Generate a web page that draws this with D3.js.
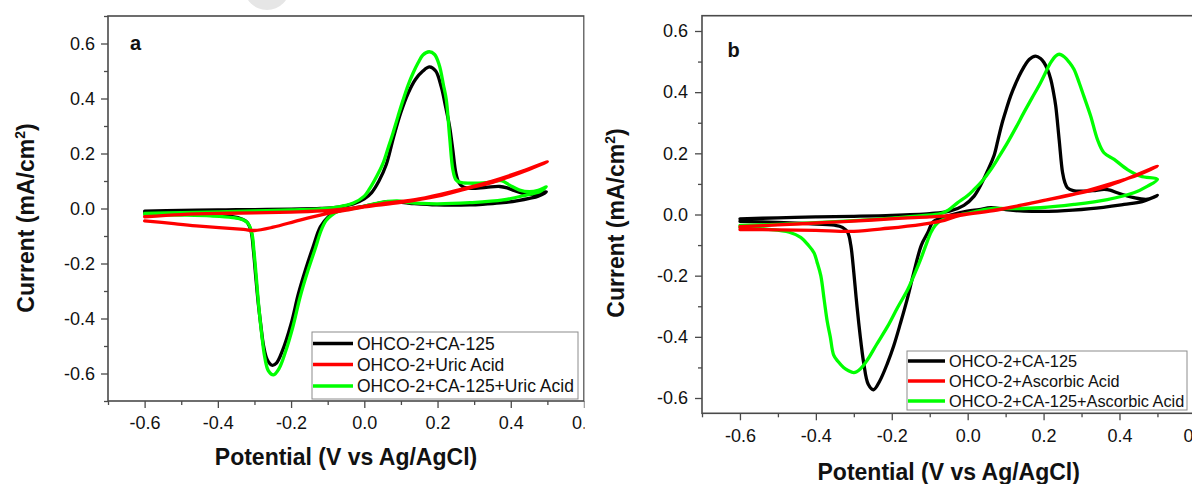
<!DOCTYPE html>
<html>
<head>
<meta charset="utf-8">
<script src="https://cdn.jsdelivr.net/npm/d3@7"></script>
<style>
  html, body { margin: 0; padding: 0; background: #fff; }
  svg { display: block; }
  text { font-family: Arial, "Liberation Sans", Helvetica, sans-serif; fill: #111; }
</style>
</head>
<body>
<script>
// Cyclic voltammograms: [potential (V vs Ag/AgCl), current density (mA/cm²)],
// listed in scan order (anodic sweep from -0.6 V, then the cathodic return).

// Panel a
const ca125A = [
  [-0.6, -0.010], [-0.5, -0.007], [-0.4, -0.005], [-0.3, -0.004], [-0.2, -0.002], [-0.12, 0.000],
  [-0.07, 0.005], [-0.03, 0.017], [0.0, 0.035], [0.02, 0.058], [0.04, 0.10], [0.06, 0.16],
  [0.08, 0.26], [0.10, 0.35], [0.12, 0.42], [0.14, 0.47], [0.16, 0.50], [0.178, 0.515],
  [0.195, 0.50], [0.21, 0.443], [0.222, 0.37], [0.233, 0.297], [0.242, 0.21], [0.25, 0.13],
  [0.258, 0.095], [0.27, 0.078], [0.29, 0.073], [0.333, 0.077], [0.37, 0.08], [0.39, 0.075],
  [0.406, 0.067], [0.433, 0.055], [0.46, 0.052], [0.497, 0.061],
  [0.475, 0.045], [0.451, 0.037], [0.42, 0.029], [0.379, 0.021], [0.33, 0.016], [0.288, 0.013],
  [0.197, 0.013], [0.124, 0.019], [0.069, 0.025], [0.04, 0.02], [0.015, 0.012], [-0.035, 0.0],
  [-0.077, -0.012], [-0.098, -0.03], [-0.12, -0.067], [-0.14, -0.14], [-0.16, -0.22],
  [-0.18, -0.31], [-0.2, -0.42], [-0.223, -0.515], [-0.24, -0.562], [-0.252, -0.57],
  [-0.265, -0.55], [-0.275, -0.50], [-0.283, -0.42], [-0.29, -0.34], [-0.297, -0.24],
  [-0.303, -0.15], [-0.309, -0.085], [-0.32, -0.05], [-0.335, -0.038], [-0.36, -0.03],
  [-0.41, -0.024], [-0.5, -0.019], [-0.6, -0.016]
];
const uricA = [
  [-0.6, -0.030], [-0.5, -0.022], [-0.4, -0.018], [-0.3, -0.016], [-0.2, -0.013], [-0.1, -0.008],
  [-0.04, 0.0], [0.05, 0.018], [0.15, 0.035], [0.25, 0.065], [0.35, 0.10], [0.43, 0.135], [0.5, 0.17],
  [0.45, 0.142], [0.35, 0.095], [0.288, 0.075], [0.2, 0.045], [0.1, 0.022], [0.0, 0.006],
  [-0.05, -0.006], [-0.1, -0.018], [-0.176, -0.042], [-0.249, -0.068], [-0.3, -0.08],
  [-0.33, -0.076], [-0.45, -0.064], [-0.52, -0.055], [-0.6, -0.045]
];
const mixA = [
  [-0.6, -0.018], [-0.5, -0.015], [-0.4, -0.012], [-0.3, -0.009], [-0.2, -0.005], [-0.12, -0.001],
  [-0.07, 0.006], [-0.03, 0.02], [0.0, 0.045], [0.015, 0.073], [0.035, 0.12], [0.051, 0.164],
  [0.065, 0.22], [0.078, 0.273], [0.092, 0.335], [0.106, 0.395], [0.12, 0.45], [0.133, 0.492],
  [0.147, 0.53], [0.16, 0.558], [0.177, 0.57], [0.192, 0.56], [0.205, 0.52], [0.216, 0.45],
  [0.224, 0.395], [0.233, 0.261], [0.242, 0.14], [0.25, 0.105], [0.262, 0.095], [0.288, 0.092],
  [0.333, 0.094], [0.374, 0.101], [0.397, 0.085], [0.424, 0.067], [0.451, 0.061], [0.475, 0.066],
  [0.497, 0.079],
  [0.48, 0.062], [0.442, 0.049], [0.379, 0.031], [0.288, 0.021], [0.197, 0.017], [0.124, 0.021],
  [0.09, 0.028], [0.06, 0.025], [0.03, 0.018], [0.0, 0.008], [-0.04, -0.002], [-0.07, -0.01],
  [-0.09, -0.025], [-0.105, -0.045], [-0.118, -0.08], [-0.135, -0.15], [-0.155, -0.23],
  [-0.175, -0.32], [-0.195, -0.43], [-0.215, -0.52], [-0.232, -0.58], [-0.248, -0.605],
  [-0.262, -0.59], [-0.272, -0.54], [-0.28, -0.46], [-0.288, -0.36], [-0.295, -0.25],
  [-0.301, -0.16], [-0.307, -0.09], [-0.317, -0.055], [-0.33, -0.042], [-0.36, -0.033],
  [-0.42, -0.027], [-0.5, -0.024], [-0.6, -0.022]
];

// Panel b
const ca125B = [
  [-0.6, -0.014], [-0.5, -0.011], [-0.4, -0.008], [-0.3, -0.006], [-0.2, -0.003], [-0.1, 0.003],
  [-0.05, 0.01], [-0.01, 0.03], [0.017, 0.06], [0.04, 0.11], [0.055, 0.15], [0.069, 0.191],
  [0.08, 0.245], [0.091, 0.30], [0.102, 0.345], [0.113, 0.387], [0.127, 0.43], [0.14, 0.464],
  [0.162, 0.507], [0.179, 0.518], [0.192, 0.51], [0.201, 0.497], [0.21, 0.475], [0.219, 0.442],
  [0.226, 0.40], [0.232, 0.355], [0.241, 0.245], [0.25, 0.137], [0.256, 0.105], [0.263, 0.087],
  [0.278, 0.078], [0.298, 0.076], [0.33, 0.078], [0.359, 0.082], [0.375, 0.08], [0.394, 0.071],
  [0.438, 0.055], [0.474, 0.05], [0.5, 0.062],
  [0.46, 0.042], [0.412, 0.033], [0.324, 0.019], [0.236, 0.011], [0.148, 0.011], [0.1, 0.016],
  [0.061, 0.022], [0.03, 0.016], [-0.001, 0.011], [-0.04, 0.0], [-0.071, -0.012], [-0.092, -0.025],
  [-0.105, -0.059], [-0.122, -0.10], [-0.142, -0.19], [-0.16, -0.28], [-0.177, -0.355],
  [-0.195, -0.43], [-0.211, -0.485], [-0.232, -0.545], [-0.248, -0.573], [-0.262, -0.555],
  [-0.274, -0.485], [-0.281, -0.42], [-0.287, -0.355], [-0.294, -0.27], [-0.30, -0.19],
  [-0.308, -0.10], [-0.316, -0.059], [-0.33, -0.042], [-0.351, -0.035], [-0.42, -0.03],
  [-0.5, -0.026], [-0.6, -0.022]
];
const ascorbicB = [
  [-0.6, -0.040], [-0.5, -0.034], [-0.37, -0.026], [-0.25, -0.018], [-0.17, -0.012], [-0.1, -0.008],
  [0.0, 0.002], [0.105, 0.022], [0.236, 0.055], [0.368, 0.093], [0.5, 0.158],
  [0.45, 0.13], [0.376, 0.10], [0.276, 0.065], [0.177, 0.04], [0.077, 0.014], [-0.02, -0.003],
  [-0.071, -0.022], [-0.12, -0.032], [-0.21, -0.045], [-0.3, -0.055], [-0.4, -0.052],
  [-0.5, -0.050], [-0.6, -0.049]
];
const mixB = [
  [-0.6, -0.036], [-0.5, -0.032], [-0.4, -0.027], [-0.3, -0.02], [-0.2, -0.012], [-0.12, -0.004],
  [-0.071, 0.003], [-0.05, 0.015], [-0.027, 0.038], [0.0, 0.062], [0.017, 0.082], [0.04, 0.112],
  [0.061, 0.147], [0.083, 0.19], [0.105, 0.235], [0.127, 0.284], [0.148, 0.333], [0.17, 0.382],
  [0.192, 0.431], [0.219, 0.497], [0.232, 0.518], [0.241, 0.524], [0.255, 0.515], [0.268, 0.497],
  [0.28, 0.475], [0.294, 0.43], [0.306, 0.387], [0.324, 0.322], [0.342, 0.245], [0.359, 0.202],
  [0.386, 0.18], [0.421, 0.147], [0.456, 0.125], [0.5, 0.115],
  [0.474, 0.093], [0.438, 0.071], [0.368, 0.049], [0.28, 0.033], [0.192, 0.022], [0.105, 0.019],
  [0.07, 0.02], [0.043, 0.016], [0.008, 0.006], [-0.018, 0.0], [-0.042, -0.008], [-0.071, -0.02],
  [-0.085, -0.035], [-0.097, -0.059], [-0.11, -0.10], [-0.124, -0.147], [-0.14, -0.195],
  [-0.158, -0.245], [-0.185, -0.305], [-0.211, -0.366], [-0.24, -0.425], [-0.264, -0.475],
  [-0.283, -0.505], [-0.30, -0.517], [-0.315, -0.51], [-0.327, -0.50], [-0.342, -0.48],
  [-0.353, -0.46], [-0.362, -0.40], [-0.37, -0.35], [-0.378, -0.28], [-0.387, -0.20],
  [-0.397, -0.155], [-0.405, -0.125], [-0.42, -0.10], [-0.44, -0.075], [-0.47, -0.058],
  [-0.53, -0.048], [-0.6, -0.042]
];

const seriesNamesA = ["OHCO-2+CA-125", "OHCO-2+Uric Acid", "OHCO-2+CA-125+Uric Acid"];
const seriesNamesB = ["OHCO-2+CA-125", "OHCO-2+Ascorbic Acid", "OHCO-2+CA-125+Ascorbic Acid"];
const seriesColors = ["#000000", "#ff0000", "#00ff00"];

const xMajorTicks = [-0.6, -0.4, -0.2, 0.0, 0.2, 0.4, 0.6];
const xMinorTicks = [-0.7, -0.5, -0.3, -0.1, 0.1, 0.3, 0.5];
const yMajorTicks = [-0.6, -0.4, -0.2, 0.0, 0.2, 0.4, 0.6];
const yMinorTicksA = [-0.7, -0.5, -0.3, -0.1, 0.1, 0.3, 0.5, 0.7];
const yMinorTicksB = [-0.5, -0.3, -0.1, 0.1, 0.3, 0.5];

const xTitle = "Potential (V vs Ag/AgCl)";

const W = 1192, H = 484;
const svg = d3.select("body").append("svg").attr("width", W).attr("height", H);

// soft grey disc peeking in at the top edge
svg.append("circle").attr("cx", 267).attr("cy", -13).attr("r", 23).attr("fill", "#e6e6e6");

const fmt = v => (Math.abs(v) < 1e-9 ? 0 : v).toFixed(1);
const frameColor = "#4a4a4a";

function drawPanel(p) {
  const g = svg.append("g");
  if (p.clipRight) {
    const id = "clip-" + p.letter;
    svg.append("defs").append("clipPath").attr("id", id)
      .append("rect").attr("x", 0).attr("y", 0).attr("width", p.clipRight).attr("height", H);
    g.attr("clip-path", `url(#${id})`);
  }

  const x = d3.scaleLinear().domain(p.xDomain).range(p.xRange);
  const y = d3.scaleLinear().domain(p.yDomain).range(p.yRange);

  // axes: labelled major ticks plus short minor ticks, pointing outward
  const styleAxis = sel => {
    sel.select(".domain").remove();
    sel.selectAll(".tick line").attr("stroke", frameColor).attr("stroke-width", 1.3);
  };
  g.append("g").attr("transform", `translate(${p.xRange[0]},0)`)
    .call(d3.axisLeft(y).tickValues(yMajorTicks).tickFormat(fmt).tickSize(7).tickPadding(p.yPad))
    .call(styleAxis)
    .selectAll("text").attr("font-size", p.tickFont).attr("fill", "#111")
    .attr("font-family", "Arial, 'Liberation Sans', sans-serif");
  g.append("g").attr("transform", `translate(${p.xRange[0]},0)`)
    .call(d3.axisLeft(y).tickValues(p.yMinor).tickFormat("").tickSize(4))
    .call(styleAxis);
  g.append("g").attr("transform", `translate(0,${p.yRange[0]})`)
    .call(d3.axisBottom(x).tickValues(xMajorTicks).tickFormat(fmt).tickSize(7).tickPadding(p.xPad))
    .call(styleAxis)
    .selectAll("text").attr("font-size", p.tickFont).attr("fill", "#111")
    .attr("font-family", "Arial, 'Liberation Sans', sans-serif");
  g.append("g").attr("transform", `translate(0,${p.yRange[0]})`)
    .call(d3.axisBottom(x).tickValues(xMinorTicks).tickFormat("").tickSize(4))
    .call(styleAxis);

  // frame
  g.append("rect")
    .attr("x", p.xRange[0]).attr("y", p.yRange[1])
    .attr("width", p.xRange[1] - p.xRange[0]).attr("height", p.yRange[0] - p.yRange[1])
    .attr("fill", "none").attr("stroke", frameColor).attr("stroke-width", 1.6);

  // curves
  const line = d3.line().x(d => x(d[0])).y(d => y(d[1])).curve(d3.curveCatmullRom.alpha(0.5));
  p.drawOrder.forEach(i => {
    g.append("path").datum(p.series[i])
      .attr("d", line).attr("fill", "none")
      .attr("stroke", seriesColors[i]).attr("stroke-width", 3.3)
      .attr("stroke-linejoin", "round").attr("stroke-linecap", "round");
  });

  // panel letter
  g.append("text").attr("x", p.letterPos[0]).attr("y", p.letterPos[1])
    .attr("font-size", 20).attr("font-weight", "bold").text(p.letter);

  // axis titles
  const cx = (p.xRange[0] + p.xRange[1]) / 2;
  g.append("text").attr("x", cx).attr("y", p.xTitleY).attr("text-anchor", "middle")
    .attr("font-size", 23).attr("font-weight", "bold").text(xTitle);
  const yt = g.append("text")
    .attr("transform", `translate(${p.yTitlePos[0]},${p.yTitlePos[1]}) rotate(-90)`)
    .attr("text-anchor", "middle").attr("font-size", 23).attr("font-weight", "bold");
  yt.append("tspan").text("Current (mA/cm");
  yt.append("tspan").attr("font-size", 14).attr("dy", -9).text("2");
  yt.append("tspan").attr("dy", 9).text(")");

  // legend
  const L = p.legend;
  const lg = g.append("g");
  lg.append("rect").attr("x", L.x).attr("y", L.y).attr("width", L.w).attr("height", L.h)
    .attr("fill", "#fff").attr("stroke", "#8c8c8c").attr("stroke-width", 1);
  p.names.forEach((name, i) => {
    const ry = L.rows[i];
    lg.append("line").attr("x1", L.x + 1).attr("x2", L.x + L.lineLen)
      .attr("y1", ry).attr("y2", ry)
      .attr("stroke", seriesColors[i]).attr("stroke-width", 3.6);
    lg.append("text").attr("x", L.x + L.lineLen + 4).attr("y", ry).attr("dy", "0.36em")
      .attr("font-size", L.font).text(name);
  });
}

drawPanel({
  letter: "a",
  series: [ca125A, uricA, mixA],
  names: seriesNamesA,
  drawOrder: [0, 2, 1],
  xDomain: [-0.7, 0.6], xRange: [108, 584],
  yDomain: [-0.7, 0.7], yRange: [401, 16],
  yMinor: yMinorTicksA,
  tickFont: 18, yPad: 6, xPad: 8,
  clipRight: 584.5,
  letterPos: [130, 50],
  xTitleY: 465,
  yTitlePos: [34, 218],
  legend: { x: 312, y: 332, w: 266, h: 67, lineLen: 41, rows: [343.5, 364.5, 386], font: 17.5 }
});

drawPanel({
  letter: "b",
  series: [ca125B, ascorbicB, mixB],
  names: seriesNamesB,
  drawOrder: [0, 2, 1],
  xDomain: [-0.7, 0.6], xRange: [702, 1195.4],
  yDomain: [-0.65, 0.65], yRange: [413.3, 15.7],
  yMinor: yMinorTicksB,
  tickFont: 18, yPad: 7, xPad: 9,
  clipRight: null,
  letterPos: [727.5, 57],
  xTitleY: 480,
  yTitlePos: [624, 223],
  legend: { x: 907, y: 351, w: 280, h: 59, lineLen: 38, rows: [361, 381, 401], font: 16.3 }
});
</script>
</body>
</html>
